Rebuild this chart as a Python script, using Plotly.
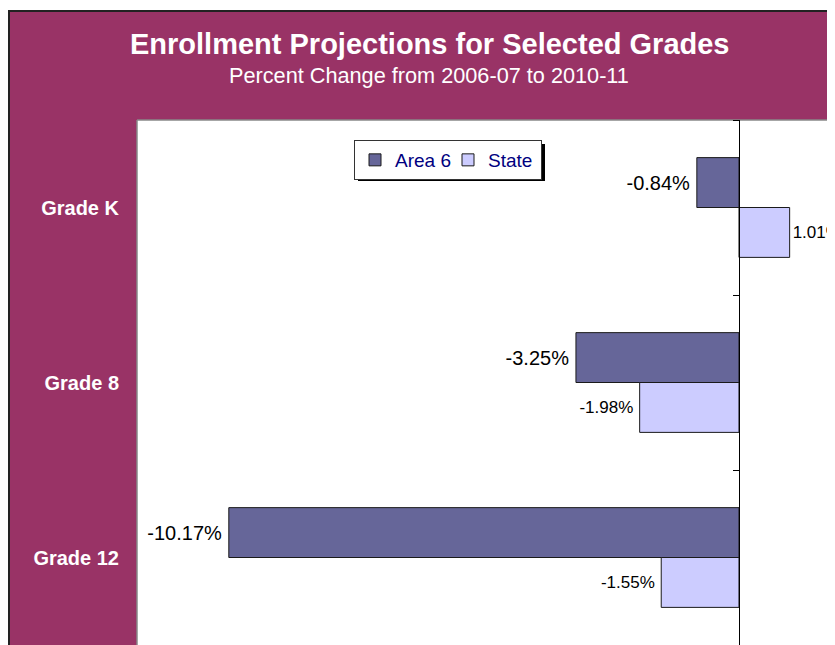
import plotly.graph_objects as go

categories = ["Grade K", "Grade 8", "Grade 12"]
area6 = [-0.84, -3.25, -10.17]
state = [1.01, -1.98, -1.55]
series_names = ["Area 6", "State"]
title = "Enrollment Projections for Selected Grades"
subtitle = "Percent Change from 2006-07 to 2010-11"

# page has an 8px body margin; figure is sized to fill the rest of the window
OFF = 8
W, H = 835 - OFF, 645 - OFF
ML, MT = 137 - OFF, 120 - OFF
PW, PH = W - ML, H - MT
XMIN, XMAX = -12.0, 1.914

def px(p):  # window pixel x -> paper
    return (p - OFF - ML) / PW

def py(q):  # window pixel y -> paper
    return (H - (q - OFF)) / PH

def label(v):
    # a thin trailing space gives negative labels a little more room from the bar
    return f"{v:.2f}%" + ("\u2009" if v < 0 else "")

MAROON = "#993366"
FONT = "Liberation Sans, Arial, sans-serif"

fig = go.Figure()
fig.add_trace(go.Bar(
    y=categories, x=area6, name=series_names[0], orientation="h",
    marker=dict(color="#666699", line=dict(color="#1a1a1a", width=1)),
    text=[label(v) for v in area6], textposition="outside",
    outsidetextfont=dict(family=FONT, size=20, color="black"),
    cliponaxis=False, constraintext="none", hoverinfo="x+y",
))
fig.add_trace(go.Bar(
    y=categories, x=state, name=series_names[1], orientation="h",
    marker=dict(color="#CCCCFF", line=dict(color="#1a1a1a", width=1)),
    text=[label(v) for v in state], textposition="outside",
    outsidetextfont=dict(family=FONT, size=17, color="black"),
    cliponaxis=False, constraintext="none", hoverinfo="x+y",
))
# invisible carrier so the category axis drawn at zero (with boundary ticks) is rendered
fig.add_trace(go.Scatter(
    y=categories, x=[0] * len(categories), yaxis="y2", mode="markers",
    marker=dict(opacity=0), showlegend=False, hoverinfo="skip",
))

zero_pos = (0 - XMIN) / (XMAX - XMIN)

LEG_X0, LEG_Y0 = 354, 140
LEG_W, LEG_H = 187, 37

shapes = [
    # white strip above frame and black frame edges
    dict(type="rect", xref="paper", yref="paper", x0=px(0), x1=px(900), y0=py(10), y1=py(0),
         fillcolor="white", line=dict(width=0), layer="above"),
    dict(type="line", xref="paper", yref="paper", x0=px(9), x1=px(9), y0=py(700), y1=py(10),
         line=dict(color="#222222", width=2), layer="above"),
    dict(type="line", xref="paper", yref="paper", x0=px(8), x1=px(900), y0=py(11), y1=py(11),
         line=dict(color="#222222", width=2), layer="above"),
    # plot area border
    dict(type="line", xref="paper", yref="paper", x0=0, x1=0, y0=0, y1=1,
         line=dict(color="#888888", width=1.5), layer="below"),
    dict(type="line", xref="paper", yref="paper", x0=0, x1=1, y0=1, y1=1,
         line=dict(color="#888888", width=1.5), layer="below"),
    # legend shadow
    dict(type="rect", xref="paper", yref="paper",
         x0=px(LEG_X0 + 4), x1=px(LEG_X0 + LEG_W + 4), y0=py(LEG_Y0 + LEG_H + 4), y1=py(LEG_Y0 + 4),
         fillcolor="black", line=dict(width=0), layer="above"),
]

annotations = [
    dict(text=title, xref="paper", yref="paper", x=px(430), y=py(44), xanchor="center", yanchor="middle",
         showarrow=False, font=dict(family=FONT, size=29, color="white", weight="bold")),
    dict(text=subtitle, xref="paper", yref="paper", x=px(429), y=py(75), xanchor="center", yanchor="middle",
         showarrow=False, font=dict(family=FONT, size=21.7, color="white")),
]

fig.update_layout(
    width=W, height=H,
    margin=dict(l=ML, r=0, t=MT, b=0, pad=0),
    paper_bgcolor=MAROON, plot_bgcolor="white",
    barmode="group", bargap=0.43, bargroupgap=0,
    font=dict(family=FONT),
    xaxis=dict(range=[XMIN, XMAX], showticklabels=False, ticks="", showgrid=False,
               zeroline=False, showline=False, fixedrange=True),
    yaxis=dict(type="category", categoryorder="array", categoryarray=categories,
               range=[2.5, -0.5], showline=False, showgrid=False, zeroline=False,
               ticks="outside", ticklen=13, tickcolor="rgba(0,0,0,0)",
               tickfont=dict(family=FONT, size=20, color="white", weight="bold")),
    yaxis2=dict(type="category", categoryorder="array", categoryarray=categories,
                overlaying="y", anchor="free", position=zero_pos, side="left",
                range=[2.5, -0.5], showline=True, linecolor="black", linewidth=1.3,
                ticks="outside", ticklen=6, tickcolor="black", tickwidth=1, tickson="boundaries",
                showticklabels=False, showgrid=False, zeroline=False),
    legend=dict(x=px(LEG_X0), y=py(LEG_Y0), xanchor="left", yanchor="top", orientation="h",
                bgcolor="white", bordercolor="#333333", borderwidth=1,
                font=dict(family=FONT, size=19, color="#000080"),
                itemwidth=30, tracegroupgap=0, entrywidth=48),
    shapes=shapes,
    annotations=annotations,
    showlegend=True,
)

fig.write_html("out.html")
